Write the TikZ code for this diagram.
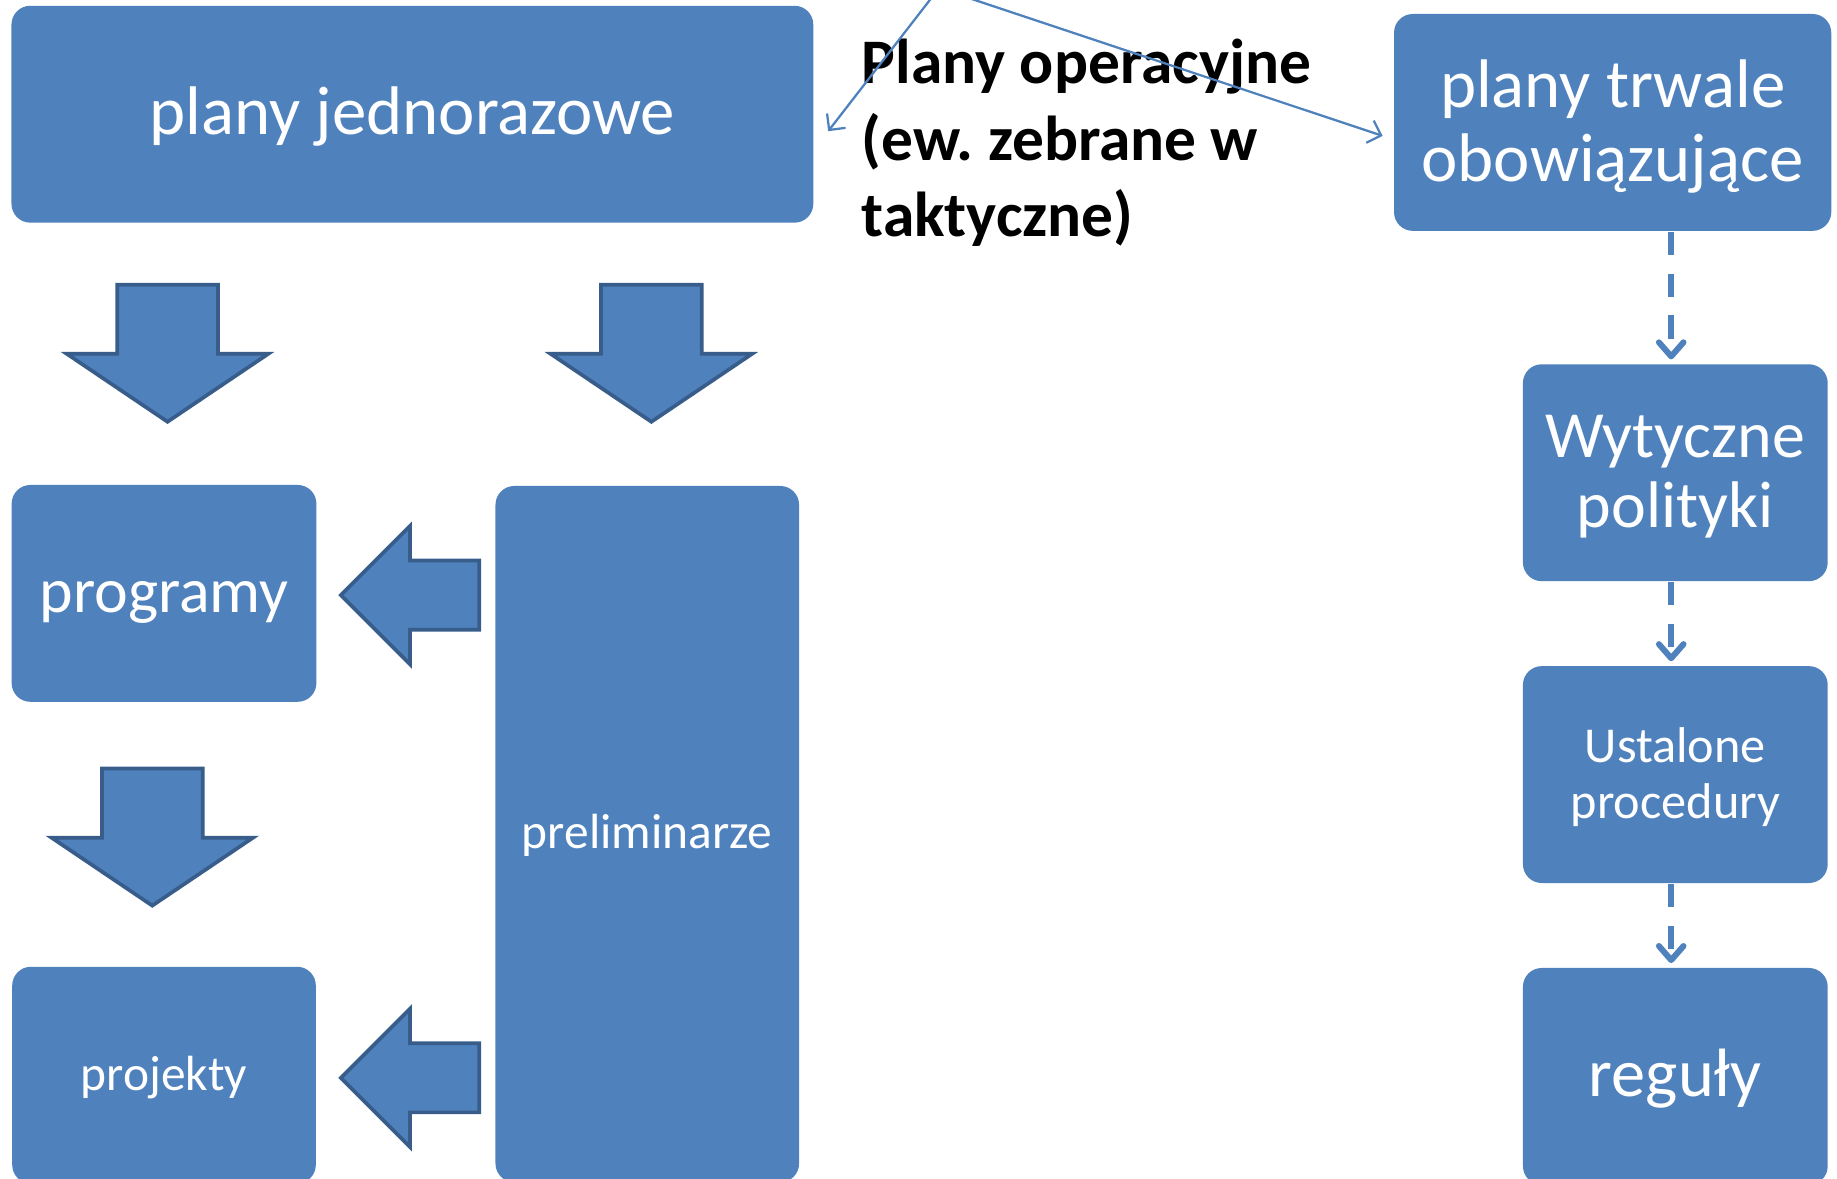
\documentclass[tikz,border=0pt]{standalone}
\usepackage{fontspec}
\setmainfont{Carlito}
\frenchspacing
\usetikzlibrary{positioning,arrows.meta}

\definecolor{boxblue}{HTML}{4F81BD}
\definecolor{edgeblue}{HTML}{385D8A}

\begin{document}
\begin{tikzpicture}[x=0.01cm,y=-0.01cm,node distance=2.575cm,on grid,
        box/.style={fill=boxblue,rounded corners=0.16cm,text=white,align=center,inner sep=0pt},
        oneline/.style={font=\fontsize{#1}{#1}\selectfont,text height=0.8*#1pt,text depth=0.2*#1pt},
        twolines/.style={text depth=0.07em},
        bigarrow/.style={fill=boxblue,draw=edgeblue,line width=0.9pt,line join=miter},
        dasharrow/.style={color=boxblue,line width=1.45pt,dash pattern=on 0.2cm off 0.157cm,
            -{Straight Barb[length=0.12cm,width=0.21cm,round]},shorten >=0.035cm},
        thinarrow/.style={draw=boxblue,line width=0.55pt,-{Straight Barb[length=0.1cm,width=0.2cm]}}]
        \useasboundingbox (0,0) rectangle (1568,1006);
        \clip (0,0) rectangle (1568,1006);
        % left column
        \node[box,oneline=16.7,minimum width=6.84cm,minimum height=1.85cm]
            (jedn) at (352,97.5) {plany jednorazowe};
        \node[box,oneline=15.5,minimum width=2.6cm,minimum height=1.85cm]
            (prog) at (140,506.5) {programy};
        \node[box,oneline=12,minimum width=2.59cm,minimum height=1.85cm]
            (proj) [below=4.11cm of prog] {projekty};
        \node[box,oneline=12,minimum width=2.59cm,minimum height=5.94cm]
            (prel) at (552.5,712) {preliminarze};
        % right column
        \node[box,twolines,minimum width=3.73cm,minimum height=1.85cm,font=\fontsize{16.7}{17.9}\selectfont]
            (trw) at (1376.5,104.5) {plany trwale\\obowiązujące};
        \node[box,twolines,minimum width=2.6cm,minimum height=1.85cm,font=\fontsize{16}{17}\selectfont]
            (wyt) at (1430,403.5) {Wytyczne\\polityki};
        \node[box,twolines,minimum width=2.6cm,minimum height=1.85cm,font=\fontsize{12.2}{13.7}\selectfont]
            (ust) [below=of wyt] {Ustalone\\procedury};
        \node[box,oneline=16.6,minimum width=2.6cm,minimum height=1.85cm]
            (reg) [below=of ust] {reguły};
        % label in the middle
        \node[align=left,anchor=west,inner sep=0pt,font=\bfseries\fontsize{15.4}{18.5}\selectfont]
            (oper) at (735,122) {Plany operacyjne\\(ew. zebrane w\\taktyczne)};
        % block arrows
        \foreach \tx/\ty in {143/360,556/360,130/773}
            \draw[bigarrow] (\tx,\ty) -- ++(86,-58) -- ++(-43,0) -- ++(0,-59) -- ++(-86,0)
                -- ++(0,59) -- ++(-43,0) -- cycle;
        \foreach \ty in {508,920}
            \draw[bigarrow] (291,\ty) -- ++(59,-59) -- ++(0,29.5) -- ++(59,0) -- ++(0,59)
                -- ++(-59,0) -- ++(0,29.5) -- cycle;
        % arrows from above
        \coordinate (srcL) at (796,-3);
        \coordinate (srcR) at (823,-3);
        \draw[thinarrow] (srcL) -- ([shift={(12,14.5)}]jedn.east);
        \draw[thinarrow] (srcR) -- ([shift={(-9,11.5)}]trw.west);
        % dashed chain
        \draw[dasharrow] ([xshift=-0.035cm]trw.south -| wyt.north) -- ([xshift=-0.035cm]wyt.north);
        \path[dasharrow]
            ([xshift=-0.035cm]wyt.south) edge ([xshift=-0.035cm]ust.north)
            ([xshift=-0.035cm]ust.south) edge ([xshift=-0.035cm]reg.north);
    \end{tikzpicture}
\end{document}
